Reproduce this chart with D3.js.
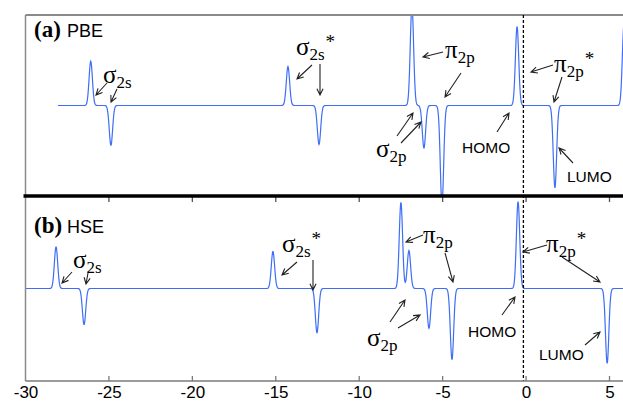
<!DOCTYPE html>
<html>
<head>
<meta charset="utf-8">
<script src="https://cdn.jsdelivr.net/npm/d3@7"></script>
<style>
body { margin: 0; background: #fff; }
svg { display: block; }
.serif { font-family: "Liberation Serif", "Times New Roman", serif; }
.sans { font-family: "Liberation Sans", Arial, sans-serif; }
</style>
</head>
<body>
<svg id="chart" width="623" height="404"></svg>
<script>
// energies (eV) and peak heights
var xTicks = [-30, -25, -20, -15, -10, -5, 0, 5];
var fermiLevel = -0.16;

var pbeUpE = [-26.09, -14.27, -6.84, -0.54, 5.87];
var pbeUpH = [0.49, 0.43, 1.1, 0.87, 0.9];
var pbeDnE = [-24.88, -12.41, -6.12, -5.04, 1.73];
var pbeDnH = [0.44, 0.43, 0.47, 1.1, 0.91];

var hseUpE = [-28.17, -15.17, -7.50, -7.02, -0.48];
var hseUpH = [0.45, 0.40, 0.93, 0.41, 0.94];
var hseDnE = [-26.49, -12.53, -5.82, -4.44, 4.86];
var hseDnH = [0.39, 0.48, 0.43, 0.77, 0.81];

var pbeStart = -28.05, hseStart = -30;
var sigma = 0.1;

var svg = d3.select("#chart");
var W = 623;
var left = 25.5, topA = 15, mid = 196, bottom = 381;

var x = d3.scaleLinear().domain([-30, 5]).range([left, 609.5]);
var yA = d3.scaleLinear().domain([-1, 1]).range([mid, topA]);
var yB = d3.scaleLinear().domain([-1, 1]).range([bottom, mid]);
var xMax = x.invert(W);

function dos(e, upE, upH, dnE, dnH) {
    var s = 0;
    for (var i = 0; i < upE.length; i++) s += upH[i] * Math.exp(-Math.pow(e - upE[i], 2) / (2 * sigma * sigma));
    for (var j = 0; j < dnE.length; j++) s -= dnH[j] * Math.exp(-Math.pow(e - dnE[j], 2) / (2 * sigma * sigma));
    return s;
}

function curve(start, upE, upH, dnE, dnH) {
    var pts = [];
    for (var e = start; e <= xMax + 0.1; e += 0.02) pts.push([e, dos(e, upE, upH, dnE, dnH)]);
    return pts;
}

var defs = svg.append("defs");
defs.append("clipPath").attr("id", "clipA").append("rect")
    .attr("x", left).attr("y", topA).attr("width", W - left).attr("height", mid - topA);
defs.append("clipPath").attr("id", "clipB").append("rect")
    .attr("x", left).attr("y", mid).attr("width", W - left).attr("height", bottom - mid);

function drawPanel(clip, y, pts) {
    var line = d3.line().x(function(d) { return x(d[0]); }).y(function(d) { return y(d[1]); });
    svg.append("path")
        .datum(pts)
        .attr("clip-path", "url(#" + clip + ")")
        .attr("d", line)
        .attr("fill", "none")
        .attr("stroke", "#3d6ef5")
        .attr("stroke-width", 1.2);
}
drawPanel("clipA", yA, curve(pbeStart, pbeUpE, pbeUpH, pbeDnE, pbeDnH));
drawPanel("clipB", yB, curve(hseStart, hseUpE, hseUpH, hseDnE, hseDnH));

// frame
svg.append("line").attr("x1", left).attr("x2", W).attr("y1", topA).attr("y2", topA)
    .attr("stroke", "#8a8a8a").attr("stroke-width", 2);
svg.append("line").attr("x1", left).attr("x2", left).attr("y1", topA).attr("y2", bottom)
    .attr("stroke", "#8a8a8a").attr("stroke-width", 1.5);

// fermi level
svg.append("line").attr("x1", x(fermiLevel)).attr("x2", x(fermiLevel)).attr("y1", topA).attr("y2", bottom)
    .attr("stroke", "#000").attr("stroke-width", 1.3).attr("stroke-dasharray", "3,2");

// bottom axis
var xAxis = d3.axisBottom(x).tickValues(xTicks).tickSize(0).tickPadding(5).tickFormat(d3.format("d"));
var ax = svg.append("g").attr("transform", "translate(0," + bottom + ")").call(xAxis);
ax.select(".domain").remove();
ax.selectAll("text").attr("class", "sans").attr("font-size", 17).attr("fill", "#000")
    .text(function(d) { return d < 0 ? "-" + Math.abs(d) : d; });
svg.append("line").attr("x1", left).attr("x2", W).attr("y1", bottom).attr("y2", bottom)
    .attr("stroke", "#7a7a7a").attr("stroke-width", 1.5);
svg.selectAll(".btick").data(xTicks.slice(1)).enter().append("line")
    .attr("x1", function(d) { return x(d); }).attr("x2", function(d) { return x(d); })
    .attr("y1", bottom).attr("y2", bottom - 5)
    .attr("stroke", "#7a7a7a").attr("stroke-width", 1.3);

// divider with ticks hanging into the lower panel
svg.selectAll(".mtick").data(xTicks.slice(1)).enter().append("line")
    .attr("x1", function(d) { return x(d); }).attr("x2", function(d) { return x(d); })
    .attr("y1", mid).attr("y2", mid + 6)
    .attr("stroke", "#555").attr("stroke-width", 1.3);
svg.append("line").attr("x1", left - 2).attr("x2", W).attr("y1", mid).attr("y2", mid)
    .attr("stroke", "#000").attr("stroke-width", 3.5);

// panel titles
function title(tx, ty, tag, name) {
    svg.append("text").attr("class", "serif").attr("x", tx).attr("y", ty)
        .attr("font-size", 23).attr("font-weight", "bold").text(tag);
    svg.append("text").attr("class", "sans").attr("x", tx + 33).attr("y", ty)
        .attr("font-size", 18).text(name);
}
title(34, 37, "(a)", "PBE");
title(34, 233, "(b)", "HSE");

// orbital labels
var orbLabels = [
    {x: 103, y: 83, s: "σ", sub: "2s", star: false},
    {x: 296, y: 55, s: "σ", sub: "2s", star: true},
    {x: 445, y: 58, s: "π", sub: "2p", star: false},
    {x: 376, y: 157, s: "σ", sub: "2p", star: false},
    {x: 554, y: 72, s: "π", sub: "2p", star: true},
    {x: 73, y: 268, s: "σ", sub: "2s", star: false},
    {x: 282, y: 252, s: "σ", sub: "2s", star: true},
    {x: 423, y: 243, s: "π", sub: "2p", star: false},
    {x: 367, y: 346, s: "σ", sub: "2p", star: false},
    {x: 546, y: 252, s: "π", sub: "2p", star: true}
];
orbLabels.forEach(function(l) {
    var t = svg.append("text").attr("class", "serif").attr("x", l.x).attr("y", l.y).attr("font-size", 25);
    t.append("tspan").text(l.s);
    t.append("tspan").attr("dy", 5).attr("font-size", 17).text(l.sub);
    if (l.star) t.append("tspan").attr("dy", -12).attr("dx", 1).attr("font-size", 19).text("*");
});

var wordLabels = [
    {x: 462, y: 153, t: "HOMO"},
    {x: 567, y: 182, t: "LUMO"},
    {x: 468, y: 337, t: "HOMO"},
    {x: 539, y: 360, t: "LUMO"}
];
wordLabels.forEach(function(l) {
    svg.append("text").attr("class", "sans").attr("x", l.x).attr("y", l.y).attr("font-size", 15.5).text(l.t);
});

// arrows: [x1, y1, x2, y2], head at the second point
var arrows = [
    [107, 83, 96, 95], [117, 89, 111, 102], [312, 65, 297, 79], [320, 64, 320, 95],
    [443, 52, 423, 57], [461, 73, 445, 97], [397, 136, 413, 113], [401, 143, 421, 122],
    [497, 132, 509, 113], [553, 65, 531, 72], [562, 77, 554, 102], [573, 163, 559, 148],
    [72, 272, 62, 283], [88, 273, 86, 284], [297, 262, 282, 275], [313, 260, 313, 290],
    [423, 235, 406, 242], [445, 253, 453, 282], [390, 322, 405, 300], [398, 328, 420, 315],
    [502, 315, 515, 297], [547, 245, 523, 252], [562, 257, 600, 282], [585, 345, 600, 332]
];
arrows.forEach(function(a) {
    var ang = Math.atan2(a[3] - a[1], a[2] - a[0]), h = 7, sp = 0.45;
    var p = "M" + a[0] + "," + a[1] + "L" + a[2] + "," + a[3] +
        "M" + (a[2] - h * Math.cos(ang - sp)) + "," + (a[3] - h * Math.sin(ang - sp)) +
        "L" + a[2] + "," + a[3] +
        "L" + (a[2] - h * Math.cos(ang + sp)) + "," + (a[3] - h * Math.sin(ang + sp));
    svg.append("path").attr("d", p).attr("fill", "none").attr("stroke", "#222").attr("stroke-width", 1.1);
});
</script>
</body>
</html>
